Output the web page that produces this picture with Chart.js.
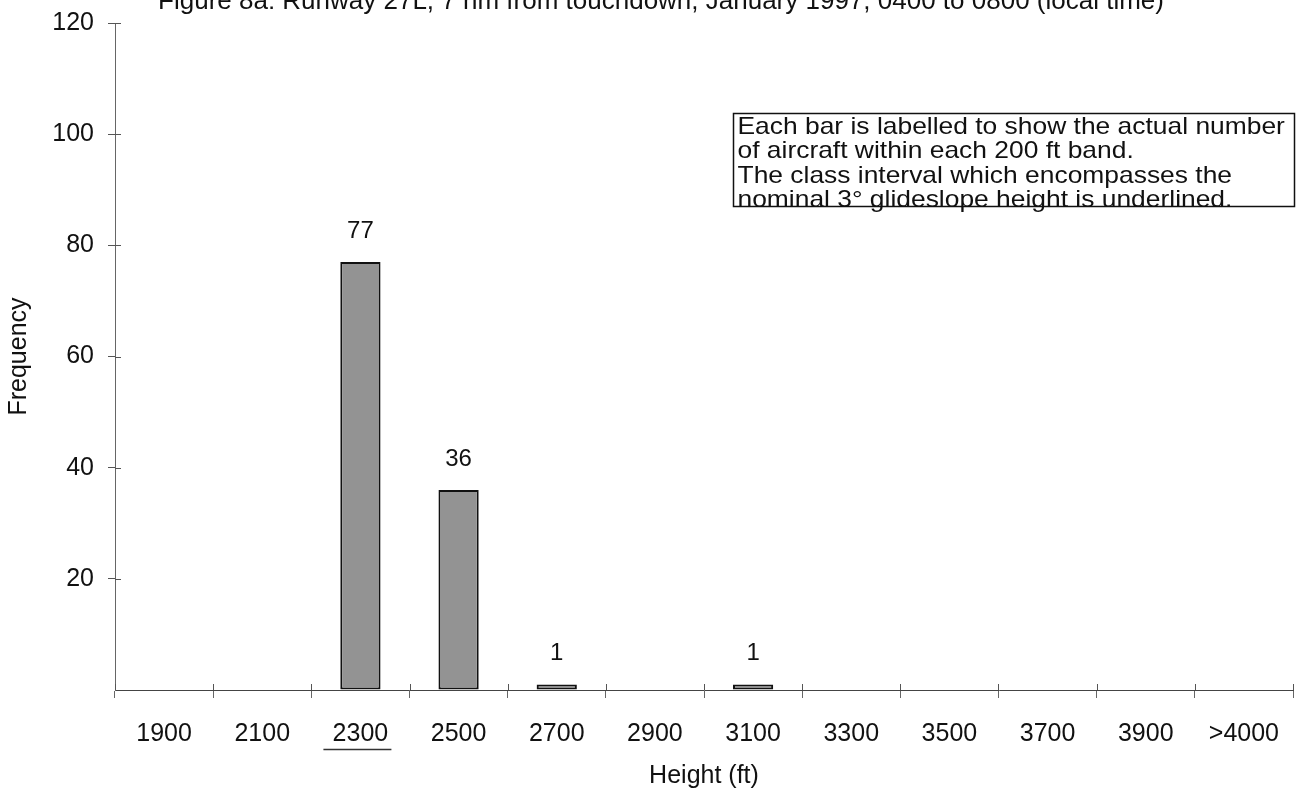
<!DOCTYPE html>
<html>
<head>
<meta charset="utf-8">
<script src="https://cdn.jsdelivr.net/npm/chart.js@4.4.1/dist/chart.umd.min.js"></script>
<style>
  html, body { margin: 0; padding: 0; background: #fff; overflow: hidden; }
  #wrap { width: 1304px; height: 793px; position: relative; }
  canvas { display: block; }
</style>
</head>
<body>
<div id="wrap"><canvas id="c" width="1304" height="793"></canvas></div>
<script>
const titleText = 'Figure 8a: Runway 27L, 7 nm from touchdown, January 1997, 0400 to 0800 (local time)';
const categories = ['1900','2100','2300','2500','2700','2900','3100','3300','3500','3700','3900','>4000'];
const frequency = [0, 0, 77, 36, 1, 0, 1, 0, 0, 0, 0, 0];
const yTicks = [20, 40, 60, 80, 100, 120];
const noteLines = [
  'Each bar is labelled to show the actual number',
  'of aircraft within each 200 ft band.',
  'The class interval which encompasses the',
  'nominal 3\u00B0 glideslope height is underlined.'
];
const nominalCategory = '2300';

const FONT = '"Liberation Sans", Arial, Helvetica, sans-serif';

const extras = {
  id: 'extras',
  afterDraw(chart) {
    const ctx = chart.ctx;
    const ca = chart.chartArea;
    const xs = chart.scales.x;
    const ys = chart.scales.y;
    ctx.save();

    // tick marks crossing into the plot (Excel style)
    ctx.strokeStyle = '#555';
    ctx.lineWidth = 1;
    const half = (xs.getPixelForValue(1) - xs.getPixelForValue(0)) / 2;
    for (let i = 0; i <= categories.length; i++) {
      const px = Math.round(xs.getPixelForValue(i) - half) + 0.5;
      ctx.beginPath();
      ctx.moveTo(px, ca.bottom - 6);
      ctx.lineTo(px, ca.bottom);
      ctx.stroke();
    }
    yTicks.forEach(v => {
      const py = Math.round(ys.getPixelForValue(v)) + 0.5;
      ctx.beginPath();
      ctx.moveTo(ca.left, py);
      ctx.lineTo(ca.left + 6, py);
      ctx.stroke();
    });

    // title (partly cut off at top)
    ctx.fillStyle = '#111';
    ctx.font = '26px ' + FONT;
    ctx.textAlign = 'center';
    ctx.textBaseline = 'alphabetic';
    ctx.fillText(titleText, 661, 9);

    // data labels
    ctx.font = '24px ' + FONT;
    ctx.textBaseline = 'middle';
    const meta = chart.getDatasetMeta(0);
    meta.data.forEach((bar, i) => {
      const v = frequency[i];
      if (!v) return;
      ctx.fillText(String(v), bar.x, bar.y - 31);
    });

    // underline of nominal category
    const idx = categories.indexOf(nominalCategory);
    const cx = xs.getPixelForValue(idx);
    ctx.strokeStyle = '#333';
    ctx.lineWidth = 1.5;
    ctx.beginPath();
    ctx.moveTo(cx - 37, 749.5);
    ctx.lineTo(cx + 31, 749.5);
    ctx.stroke();

    // annotation box
    const bx = 733.5, by = 113.5, bw = 561, bh = 93;
    ctx.fillStyle = '#fff';
    ctx.fillRect(bx, by, bw, bh);
    ctx.strokeStyle = '#111';
    ctx.lineWidth = 1.5;
    ctx.strokeRect(bx, by, bw, bh);
    ctx.fillStyle = '#111';
    ctx.font = '24px ' + FONT;
    ctx.textAlign = 'left';
    ctx.textBaseline = 'middle';
    noteLines.forEach((t, i) => {
      ctx.save();
      ctx.translate(bx + 4, by + 14 + i * 24.3);
      ctx.scale(1.1, 1);
      ctx.fillText(t, 0, 0);
      ctx.restore();
    });
    ctx.restore();
  }
};

new Chart(document.getElementById('c'), {
  type: 'bar',
  data: {
    labels: categories,
    datasets: [{
      label: 'Frequency',
      data: frequency,
      backgroundColor: '#939393',
      borderColor: '#111',
      borderWidth: (c) => (frequency[c.dataIndex] ? 2 : 0),
      borderSkipped: false,
      categoryPercentage: 1,
      barPercentage: 0.41
    }]
  },
  options: {
    responsive: false,
    animation: false,
    layout: { padding: { top: 23, right: 11, left: 0, bottom: 0 } },
    plugins: {
      legend: { display: false },
      title: { display: false },
      tooltip: { enabled: false }
    },
    scales: {
      x: {
        offset: true,
        grid: {
          display: true,
          offset: true,
          drawOnChartArea: false,
          drawTicks: true,
          tickLength: 8,
          color: '#666',
          lineWidth: 1
        },
        border: { display: true, color: '#444', width: 1, dash: [3, 1] },
        ticks: {
          color: '#111',
          font: { family: FONT, size: 25 },
          padding: 21,
          maxRotation: 0,
          autoSkip: false
        },
        title: {
          display: true,
          text: 'Height (ft)',
          color: '#111',
          font: { family: FONT, size: 25 },
          padding: { top: 2, bottom: 2 }
        },
        afterFit(s) { s.height = 103; }
      },
      y: {
        min: 0,
        max: 120,
        afterBuildTicks(s) { s.ticks = [0].concat(yTicks).map(v => ({ value: v })); },
        grid: {
          display: true,
          drawOnChartArea: false,
          drawTicks: true,
          tickLength: 7,
          color: (c) => (c.tick && c.tick.value === 0 ? 'rgba(0,0,0,0)' : '#555')
        },
        border: { display: true, color: '#666', width: 1, dash: [2, 1] },
        ticks: {
          color: '#111',
          font: { family: FONT, size: 25 },
          padding: 14,
          callback: (v) => (v === 0 ? '' : String(v))
        },
        title: {
          display: true,
          text: 'Frequency',
          color: '#111',
          font: { family: FONT, size: 25 },
          padding: { top: 4, bottom: 0 }
        },
        afterFit(s) { s.width = 115; s.paddingTop = 0; s.paddingBottom = 0; }
      }
    }
  },
  plugins: [extras]
});
</script>
</body>
</html>
